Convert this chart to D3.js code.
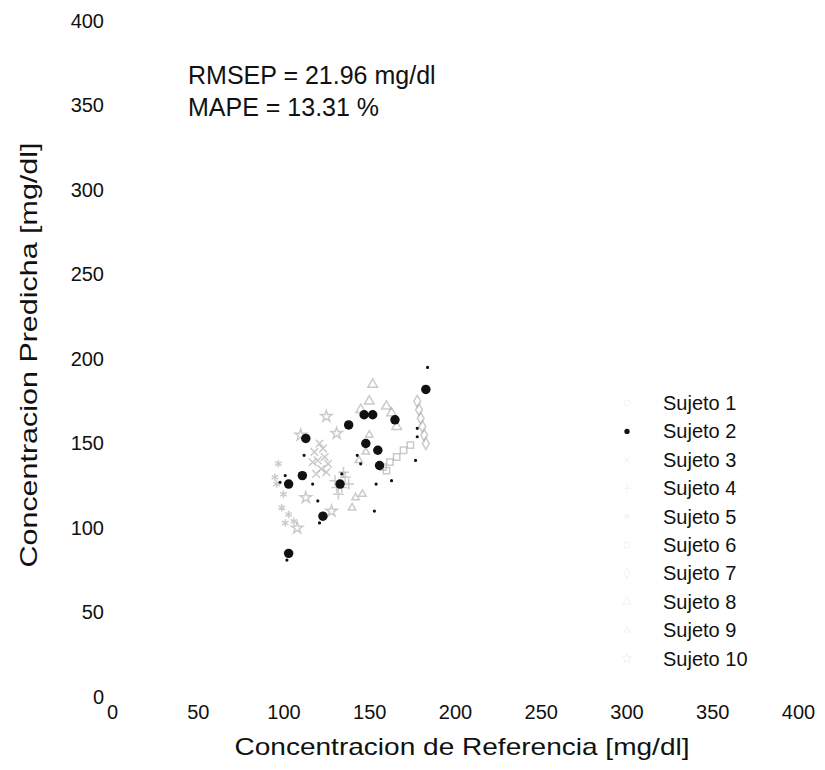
<!DOCTYPE html>
<html>
<head>
<meta charset="utf-8">
<script src="https://cdn.jsdelivr.net/npm/d3@7"></script>
<style>
  html, body { margin: 0; padding: 0; background: #fff; }
  svg { display: block; font-family: "Liberation Sans", Arial, sans-serif; }
</style>
</head>
<body>
<div id="chart"></div>
<script>
// ── Data ─────────────────────────────────────────────────────────────────────
const xTicks = [0, 50, 100, 150, 200, 250, 300, 350, 400];
const yTicks = [0, 50, 100, 150, 200, 250, 300, 350, 400];
const subjects = ["Sujeto 1", "Sujeto 2", "Sujeto 3", "Sujeto 4", "Sujeto 5",
                  "Sujeto 6", "Sujeto 7", "Sujeto 8", "Sujeto 9", "Sujeto 10"];
const stats = ["RMSEP = 21.96 mg/dl", "MAPE = 13.31 %"];

// [reference, predicted] pairs
const sujeto1 = [[184, 195], [177, 140], [163, 128], [153, 110], [120, 116], [101, 131],
                 [112, 143], [134, 132], [143, 143], [145, 138], [178, 154], [178, 159],
                 [117, 126], [154, 126], [98, 127], [102, 81], [121, 103]];
const sujeto2 = [[183, 182], [147, 167], [152, 167], [165, 164], [138, 161], [113, 153],
                 [148, 150], [155, 146], [156, 137], [111, 131], [103, 126], [133, 126],
                 [123, 107], [103, 85]];
const sujeto3 = [[118, 145], [120, 140], [122, 135], [121, 150], [124, 142], [119, 132],
                 [126, 138], [123, 147], [117, 139], [125, 133]];
const sujeto4 = [[130, 128], [134, 124], [136, 130], [132, 120], [138, 126], [135, 133],
                 [131, 124]];
const sujeto5 = [[97, 138], [96, 126], [100, 120], [103, 108], [106, 104], [99, 112],
                 [95, 130], [101, 103]];
const sujeto6 = [[158, 136], [162, 139], [166, 142], [170, 146], [174, 149], [160, 134]];
const sujeto7 = [[180, 165], [181, 160], [182, 155], [179, 170], [183, 150], [178, 175]];
const sujeto8 = [[152, 185], [150, 175], [163, 168], [166, 160], [160, 172], [145, 170]];
const sujeto9 = [[142, 118], [146, 120], [140, 112], [148, 145], [144, 140], [150, 155]];
const sujeto10 = [[110, 155], [125, 166], [131, 156], [108, 100], [113, 118], [128, 110]];

const seriesData = [sujeto1, sujeto2, sujeto3, sujeto4, sujeto5,
                    sujeto6, sujeto7, sujeto8, sujeto9, sujeto10];

// ── Layout ───────────────────────────────────────────────────────────────────
const width = 825, height = 770;
const svg = d3.select("#chart").append("svg")
  .attr("width", width).attr("height", height);

const x = d3.scaleLinear().domain([0, 400]).range([112, 798]);
const y = d3.scaleLinear().domain([0, 400]).range([697, 21]);

// marker per subject (the scan washed most of them out to grey)
const sym = [
  d3.symbolCircle,
  d3.symbolCircle,
  d3.symbolX || d3.symbolCross,
  d3.symbolPlus || d3.symbolCross,
  d3.symbolAsterisk || d3.symbolStar,
  d3.symbolSquare,
  d3.symbolDiamond,
  d3.symbolTriangle,
  d3.symbolTriangle2 || d3.symbolTriangle,
  d3.symbolStar,
];
const series = subjects.map((name, i) => ({
  name,
  points: seriesData[i],
  type: sym[i],
  size: i === 0 ? 8 : i === 1 ? 70 : 40,
  fill: i <= 1 ? "#111" : "none",
  stroke: i <= 1 ? "none" : "#a8a8a8",
  opacity: i <= 1 ? 1 : 0.6,
}));

// ── Axes (tick labels only, the scan lost the lines) ─────────────────────────
const xAxis = svg.append("g")
  .attr("transform", `translate(0,${y(0) + 4})`)
  .call(d3.axisBottom(x).tickValues(xTicks).tickSize(0).tickPadding(0));
xAxis.select(".domain").remove();
xAxis.selectAll("text").attr("font-size", 20).attr("fill", "#111").attr("dy", "0.9em");

const yAxis = svg.append("g")
  .attr("transform", `translate(${x(0) - 8},0)`)
  .call(d3.axisLeft(y).tickValues(yTicks).tickSize(0).tickPadding(0));
yAxis.select(".domain").remove();
yAxis.selectAll("text").attr("font-size", 20).attr("fill", "#111");
svg.selectAll(".tick text").attr("font-family", "Liberation Sans, Arial, sans-serif");

svg.append("text")
  .attr("x", 462).attr("y", 755)
  .attr("text-anchor", "middle")
  .attr("font-size", 24).attr("fill", "#111")
  .attr("textLength", 455).attr("lengthAdjust", "spacingAndGlyphs")
  .text("Concentracion de Referencia [mg/dl]");

svg.append("text")
  .attr("transform", "translate(37,355) rotate(-90)")
  .attr("text-anchor", "middle")
  .attr("font-size", 24).attr("fill", "#111")
  .attr("textLength", 425).attr("lengthAdjust", "spacingAndGlyphs")
  .text("Concentracion Predicha [mg/dl]");

// ── Stats text ───────────────────────────────────────────────────────────────
svg.append("g").selectAll("text")
  .data(stats)
  .join("text")
  .attr("x", 188)
  .attr("y", (d, i) => 84 + i * 32)
  .attr("font-size", 25).attr("fill", "#111")
  .text(d => d);

// ── Points ───────────────────────────────────────────────────────────────────
const plot = svg.append("g");
series.slice().reverse().forEach(s => {
  plot.append("g").selectAll("path")
    .data(s.points)
    .join("path")
    .attr("transform", d => `translate(${x(d[0])},${y(d[1])})`)
    .attr("d", d3.symbol().type(s.type).size(s.size))
    .attr("fill", s.fill)
    .attr("stroke", s.stroke)
    .attr("stroke-width", 1.5)
    .attr("opacity", s.opacity);
});

// ── Legend ───────────────────────────────────────────────────────────────────
const legend = svg.append("g").attr("transform", "translate(627,403)");
const item = legend.selectAll("g")
  .data(series)
  .join("g")
  .attr("transform", (d, i) => `translate(0,${i * 28.4})`);
item.append("path")
  .attr("d", d => d3.symbol().type(d.type).size(d.name === "Sujeto 2" ? 22 : 30)())
  .attr("fill", d => d.name === "Sujeto 2" ? "#111" : "none")
  .attr("stroke", d => d.name === "Sujeto 2" ? "none" : "#f2f2f2");
item.append("text")
  .attr("x", 36).attr("dy", "0.35em")
  .attr("font-size", 20).attr("fill", "#111")
  .text(d => d.name);
</script>
</body>
</html>
